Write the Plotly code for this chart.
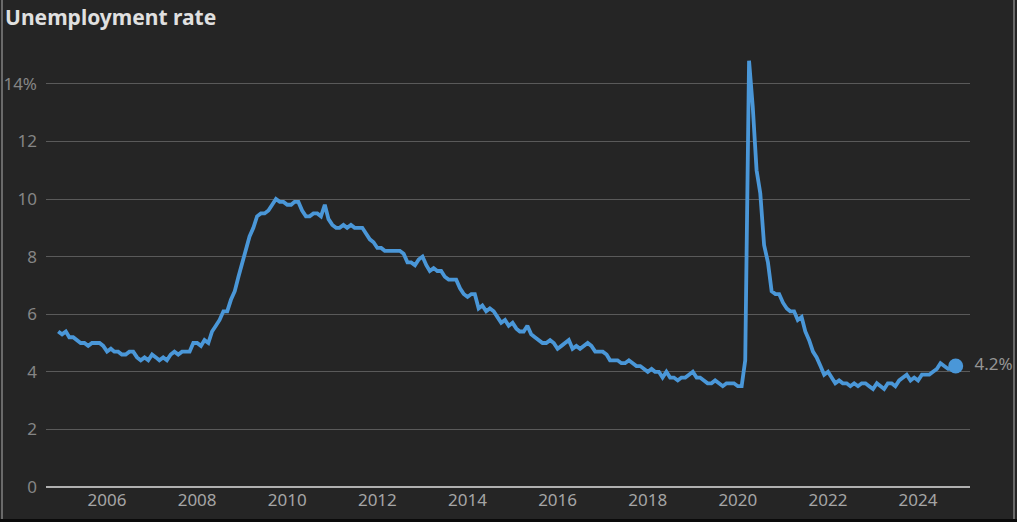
import plotly.graph_objects as go
import pandas as pd

start_month = "2004-12-01"
rates = [
    5.4,
    5.3, 5.4, 5.2, 5.2, 5.1, 5.0, 5.0, 4.9, 5.0, 5.0, 5.0, 4.9,
    4.7, 4.8, 4.7, 4.7, 4.6, 4.6, 4.7, 4.7, 4.5, 4.4, 4.5, 4.4,
    4.6, 4.5, 4.4, 4.5, 4.4, 4.6, 4.7, 4.6, 4.7, 4.7, 4.7, 5.0,
    5.0, 4.9, 5.1, 5.0, 5.4, 5.6, 5.8, 6.1, 6.1, 6.5, 6.8, 7.3,
    7.8, 8.3, 8.7, 9.0, 9.4, 9.5, 9.5, 9.6, 9.8, 10.0, 9.9, 9.9,
    9.8, 9.8, 9.9, 9.9, 9.6, 9.4, 9.4, 9.5, 9.5, 9.4, 9.8, 9.3,
    9.1, 9.0, 9.0, 9.1, 9.0, 9.1, 9.0, 9.0, 9.0, 8.8, 8.6, 8.5,
    8.3, 8.3, 8.2, 8.2, 8.2, 8.2, 8.2, 8.1, 7.8, 7.8, 7.7, 7.9,
    8.0, 7.7, 7.5, 7.6, 7.5, 7.5, 7.3, 7.2, 7.2, 7.2, 6.9, 6.7,
    6.6, 6.7, 6.7, 6.2, 6.3, 6.1, 6.2, 6.1, 5.9, 5.7, 5.8, 5.6,
    5.7, 5.5, 5.4, 5.4, 5.6, 5.3, 5.2, 5.1, 5.0, 5.0, 5.1, 5.0,
    4.8, 4.9, 5.0, 5.1, 4.8, 4.9, 4.8, 4.9, 5.0, 4.9, 4.7, 4.7,
    4.7, 4.6, 4.4, 4.4, 4.4, 4.3, 4.3, 4.4, 4.3, 4.2, 4.2, 4.1,
    4.0, 4.1, 4.0, 4.0, 3.8, 4.0, 3.8, 3.8, 3.7, 3.8, 3.8, 3.9,
    4.0, 3.8, 3.8, 3.7, 3.6, 3.6, 3.7, 3.6, 3.5, 3.6, 3.6, 3.6,
    3.5, 3.5, 4.4, 14.8, 13.2, 11.0, 10.2, 8.4, 7.8, 6.8, 6.7, 6.7,
    6.4, 6.2, 6.1, 6.1, 5.8, 5.9, 5.4, 5.1, 4.7, 4.5, 4.2, 3.9,
    4.0, 3.8, 3.6, 3.7, 3.6, 3.6, 3.5, 3.6, 3.5, 3.6, 3.6, 3.5,
    3.4, 3.6, 3.5, 3.4, 3.6, 3.6, 3.5, 3.7, 3.8, 3.9, 3.7, 3.8,
    3.7, 3.9, 3.9, 3.9, 4.0, 4.1, 4.3, 4.2, 4.1, 4.1, 4.2,
]
dates = pd.date_range(start_month, periods=len(rates), freq="MS")

y_ticks = [0, 2, 4, 6, 8, 10, 12, 14]
y_tick_labels = ["0", "2", "4", "6", "8", "10", "12", "14%"]
x_tick_years = [2006, 2008, 2010, 2012, 2014, 2016, 2018, 2020, 2022, 2024]

title_text = "Unemployment rate"
last_label = f"{rates[-1]:.1f}%"

BG = "#252525"
LINE = "#4a97d8"

fig = go.Figure()
fig.add_trace(go.Scatter(
    x=dates, y=rates, mode="lines",
    line=dict(color=LINE, width=3.8),
    hoverinfo="x+y", showlegend=False, cliponaxis=False,
))
fig.add_trace(go.Scatter(
    x=[dates[-1]], y=[rates[-1]], mode="markers+text",
    marker=dict(color=LINE, size=15),
    text=["\u2002" + last_label], textposition="middle right",
    textfont=dict(family="Noto Sans", size=17, color="#959595"),
    showlegend=False, cliponaxis=False,
))

L, R, T, B = 46, 47, 55, 35
W, H = 1017, 522
pw = W - L - R
ph = H - T - B

fig.update_layout(
    width=W, height=H,
    margin=dict(l=L, r=R, t=T, b=B, autoexpand=False),
    paper_bgcolor=BG, plot_bgcolor=BG,
    font=dict(family="Noto Sans", color="#9a9a9a", size=17),
    title=dict(text=f"<b>{title_text}</b>", x=0.005, xanchor="left",
               y=1 - 18 / H, yanchor="middle",
               font=dict(family="Noto Sans", size=21, color="#e0e0e0")),
    xaxis=dict(
        type="date", automargin=False,
        range=["2004-08-24", "2025-02-25"],
        tickvals=[f"{y}-01-01" for y in x_tick_years],
        ticktext=[str(y) for y in x_tick_years],
        showgrid=False, zeroline=False, showline=False,
        ticks="", ticklabelstandoff=1,
        tickfont=dict(size=17, color="#a5a5a5"),
    ),
    yaxis=dict(
        range=[0, 15], automargin=False,
        tickvals=y_ticks, ticktext=y_tick_labels,
        showgrid=True, gridcolor="#5a5a5a", gridwidth=1,
        zeroline=True, zerolinecolor="#b0b0b0", zerolinewidth=2,
        showline=False, ticks="", ticklabelstandoff=8,
        tickfont=dict(size=17, color="#858585"),
    ),
    shapes=[
        dict(type="line", xref="paper", yref="paper",
             x0=(2 - L) / pw, x1=(2 - L) / pw, y0=-1, y1=2,
             line=dict(color="#6a6a6a", width=2)),
        dict(type="line", xref="paper", yref="paper",
             x0=(1014 - L) / pw, x1=(1014 - L) / pw, y0=-1, y1=2,
             line=dict(color="#6a6a6a", width=2)),
        dict(type="rect", xref="paper", yref="paper",
             x0=-1, x1=2, y0=-1, y1=-(519 - (H - B)) / ph,
             fillcolor="#0a0a0a", line=dict(width=0), layer="above"),
    ],
)

fig.write_html(
    "out.html",
    config={"displayModeBar": False},
    post_script="document.body.style.margin='0';document.body.style.overflow='hidden';",
)
